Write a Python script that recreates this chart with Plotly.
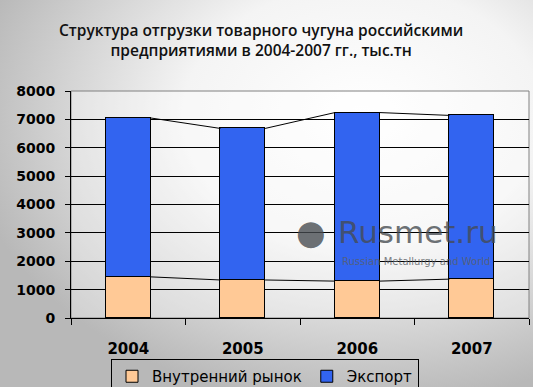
import base64
import plotly.graph_objects as go

years = ["2004", "2005", "2006", "2007"]
domestic = [1450, 1340, 1300, 1370]
export = [5600, 5340, 5940, 5770]
series_names = ["Внутренний рынок", "Экспорт"]
y_ticks = [0, 1000, 2000, 3000, 4000, 5000, 6000, 7000, 8000]

W, H = 533, 387
ML, MR, MT, MB = 71, 4, 91, 69
bar_w = 0.39

x = list(range(len(years)))
totals = [d + e for d, e in zip(domestic, export)]

fig = go.Figure()
fig.add_trace(go.Bar(x=x, y=domestic, name=series_names[0], width=bar_w,
                     marker=dict(color="#FFC996", line=dict(color="black", width=1))))
fig.add_trace(go.Bar(x=x, y=export, name=series_names[1], width=bar_w,
                     marker=dict(color="#3264F0", line=dict(color="black", width=1))))

# Series lines connecting stacked levels between neighbouring bars
for level in (domestic, totals):
    xs, ys = [], []
    for i in range(len(x) - 1):
        xs += [x[i] + bar_w / 2, x[i + 1] - bar_w / 2, None]
        ys += [level[i], level[i + 1], None]
    fig.add_trace(go.Scatter(x=xs, y=ys, mode="lines", line=dict(color="black", width=1),
                             showlegend=False, hoverinfo="skip"))

# gradient background as svg image
svg = f'''<svg xmlns="http://www.w3.org/2000/svg" width="{W}" height="{H}">
<defs><radialGradient id="g" cx="0.68" cy="0.3" r="0.75">
<stop offset="0" stop-color="#ffffff"/><stop offset="0.45" stop-color="#f4f4f4"/>
<stop offset="1" stop-color="#b8b8b8"/></radialGradient></defs>
<rect width="{W}" height="{H}" fill="url(#g)"/></svg>'''
src = "data:image/svg+xml;base64," + base64.b64encode(svg.encode()).decode()
pw, ph = W - ML - MR, H - MT - MB
fig.add_layout_image(dict(source=src, xref="paper", yref="paper",
                          x=-ML / pw, y=1 + MT / ph, sizex=W / pw, sizey=H / ph,
                          xanchor="left", yanchor="top", sizing="stretch", layer="below"))
fig.add_shape(type="rect", xref="paper", yref="paper", x0=0, x1=1, y0=0, y1=1,
              fillcolor="rgba(255,255,255,0.35)", line=dict(color="#808080", width=1), layer="below")

# watermark
wm = "rgba(70,75,80,0.8)"
fig.add_annotation(xref="paper", yref="paper", x=(336 - ML) / pw, y=(MT + ph - 252) / ph,
                   xanchor="left", yanchor="bottom", text="Rusmet.ru", showarrow=False,
                   font=dict(family="DejaVu Sans", size=31, color=wm))
fig.add_annotation(xref="paper", yref="paper", x=(294 - ML) / pw, y=(MT + ph - 254) / ph,
                   xanchor="left", yanchor="bottom", text="●", showarrow=False,
                   font=dict(family="DejaVu Sans", size=34, color=wm))
fig.add_annotation(xref="paper", yref="paper", x=(340 - ML) / pw, y=(MT + ph - 269) / ph,
                   xanchor="left", yanchor="bottom", text="Russian Metallurgy and World", showarrow=False,
                   font=dict(family="DejaVu Sans", size=10, color="rgba(90,95,100,0.8)"))

fig.update_layout(
    width=W, height=H,
    margin=dict(l=ML, r=MR, t=MT, b=MB, autoexpand=False),
    barmode="stack",
    bargap=0,
    paper_bgcolor="#d8d8d8",
    plot_bgcolor="rgba(0,0,0,0)",
    title=dict(text="Структура отгрузки товарного чугуна российскими<br>предприятиями в 2004-2007 гг., тыс.тн",
               x=0.49, xanchor="center", y=0.907, yanchor="top",
               font=dict(family="Open Sans", size=15.5, color="#111111", weight=600)),
    xaxis=dict(range=[-0.5, len(years) - 0.5], tickvals=x, ticktext=years, ticks="",
               showgrid=False, zeroline=False, showline=True, linecolor="black", linewidth=1,
               ticklabelstandoff=17,
               tickfont=dict(family="DejaVu Sans", size=15, color="black", weight="bold"),
               minor=dict(tick0=-0.5, dtick=1, ticks="outside", ticklen=6, tickcolor="black",
                          showgrid=False)),
    yaxis=dict(range=[0, 8000], tickvals=y_ticks, ticks="outside", ticklen=5, tickcolor="black",
               showgrid=True, gridcolor="black", gridwidth=1, zeroline=False,
               showline=True, linecolor="black", linewidth=1, ticklabelstandoff=7,
               tickfont=dict(family="DejaVu Sans", size=14, color="black", weight="bold")),
    legend=dict(orientation="h", x=(111 - ML) / pw, xanchor="left", y=-(359 - (MT + ph)) / ph,
                yanchor="top",
                bgcolor="rgba(0,0,0,0)", bordercolor="black", borderwidth=1,
                font=dict(family="DejaVu Sans", size=15, color="black"),
                traceorder="normal", itemwidth=30, tracegroupgap=0),
)

fig.write_html("out.html", config={"displayModeBar": False},
               post_script="document.body.style.margin='0';document.body.style.overflow='hidden';")
